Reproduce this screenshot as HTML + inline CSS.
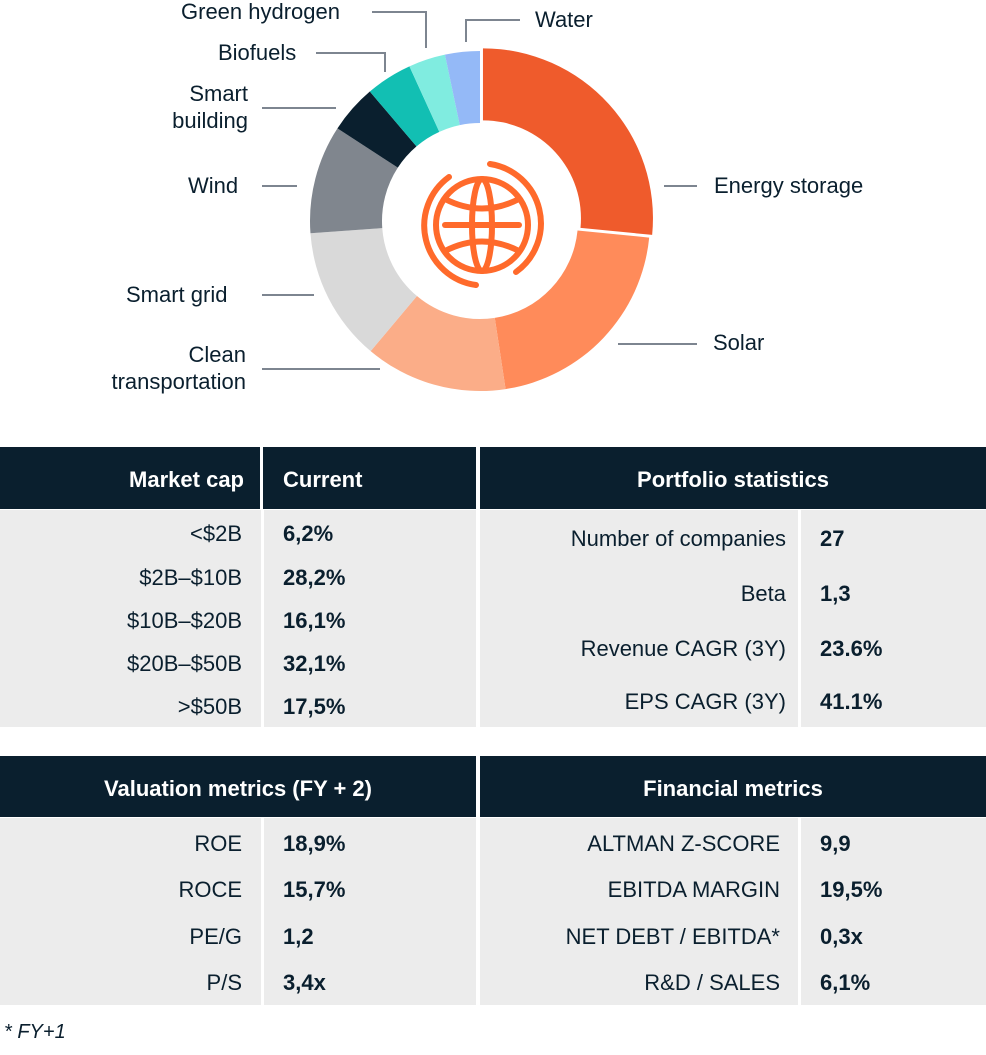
<!DOCTYPE html>
<html><head><meta charset="utf-8">
<style>
body{margin:0;width:986px;height:1055px;background:#fff;position:relative;overflow:hidden;font-family:"Liberation Sans",sans-serif;color:#0a1f2e}
.a{position:absolute;white-space:nowrap}
.lbl{font-size:22px;line-height:27px}
.hd{position:absolute;background:#0a1f2e;color:#fff;font-weight:bold;font-size:22px}
.bd{position:absolute;background:#ececec}
.r{position:absolute;font-size:22px;text-align:right}
.v{position:absolute;font-size:22px;font-weight:bold}
</style></head><body>
<svg id="chart" width="986" height="420" style="position:absolute;left:0;top:0">
<g id="slices"></g>
<g id="leaders" stroke="#7d8590" stroke-width="2" fill="none">
<polyline points="372,12 426,12 426,48"/>
<polyline points="520,20 466,20 466,42"/>
<polyline points="316,53 385,53 385,72"/>
<line x1="262" y1="108" x2="336" y2="108"/>
<line x1="262" y1="186" x2="297" y2="186"/>
<line x1="262" y1="295" x2="314" y2="295"/>
<line x1="262" y1="369" x2="380" y2="369"/>
<line x1="664" y1="186" x2="697" y2="186"/>
<line x1="618" y1="344" x2="697" y2="344"/>
</g>
<g fill="none" stroke="#ff6a2b" stroke-width="6" stroke-linecap="round">
<circle cx="482" cy="225" r="46"/>
<ellipse cx="482" cy="225" rx="10" ry="46"/>
<line x1="445" y1="225" x2="519" y2="225"/>
<path d="M445 199 Q482 218 519 199"/>
<path d="M445 251 Q482 232 519 251"/>
<path d="M490 164 A60 60 0 0 1 516 272"/>
<path d="M476 285 A60 60 0 0 1 449 177"/>
</g>
</svg>
<div class="a lbl" style="left:181px;top:-2px">Green hydrogen</div>
<div class="a lbl" style="left:535px;top:6px">Water</div>
<div class="a lbl" style="left:218px;top:39px">Biofuels</div>
<div class="a lbl" style="left:148px;top:80px;width:100px;text-align:right">Smart<br>building</div>
<div class="a lbl" style="left:188px;top:172px">Wind</div>
<div class="a lbl" style="left:126px;top:281px">Smart grid</div>
<div class="a lbl" style="left:40px;top:341px;width:206px;text-align:right">Clean<br>transportation</div>
<div class="a lbl" style="left:714px;top:172px">Energy storage</div>
<div class="a lbl" style="left:713px;top:329px">Solar</div>

<!-- Market cap table -->
<div class="hd" style="left:0;top:447px;width:260px;height:62px"><span class="a" style="right:16px;top:20px">Market cap</span></div>
<div class="hd" style="left:263px;top:447px;width:213px;height:62px"><span class="a" style="left:20px;top:20px">Current</span></div>
<div class="bd" style="left:0;top:510px;width:261px;height:217px"></div>
<div class="bd" style="left:264px;top:510px;width:212px;height:217px"></div>
<div class="r" style="right:744px;top:521px">&lt;$2B</div><div class="v" style="left:283px;top:521px">6,2%</div>
<div class="r" style="right:744px;top:565px">$2B–$10B</div><div class="v" style="left:283px;top:565px">28,2%</div>
<div class="r" style="right:744px;top:608px">$10B–$20B</div><div class="v" style="left:283px;top:608px">16,1%</div>
<div class="r" style="right:744px;top:651px">$20B–$50B</div><div class="v" style="left:283px;top:651px">32,1%</div>
<div class="r" style="right:744px;top:694px">&gt;$50B</div><div class="v" style="left:283px;top:694px">17,5%</div>

<!-- Portfolio stats -->
<div class="hd" style="left:480px;top:447px;width:506px;height:62px;text-align:center;line-height:66px">Portfolio statistics</div>
<div class="bd" style="left:480px;top:510px;width:318px;height:217px"></div>
<div class="bd" style="left:801px;top:510px;width:185px;height:217px"></div>
<div class="r" style="right:200px;top:526px">Number of companies</div><div class="v" style="left:820px;top:526px">27</div>
<div class="r" style="right:200px;top:581px">Beta</div><div class="v" style="left:820px;top:581px">1,3</div>
<div class="r" style="right:200px;top:636px">Revenue CAGR (3Y)</div><div class="v" style="left:820px;top:636px">23.6%</div>
<div class="r" style="right:200px;top:689px">EPS CAGR (3Y)</div><div class="v" style="left:820px;top:689px">41.1%</div>

<!-- Valuation -->
<div class="hd" style="left:0;top:756px;width:476px;height:61px;text-align:center;line-height:66px">Valuation metrics (FY + 2)</div>
<div class="bd" style="left:0;top:818px;width:261px;height:187px"></div>
<div class="bd" style="left:264px;top:818px;width:212px;height:187px"></div>
<div class="r" style="right:744px;top:831px">ROE</div><div class="v" style="left:283px;top:831px">18,9%</div>
<div class="r" style="right:744px;top:877px">ROCE</div><div class="v" style="left:283px;top:877px">15,7%</div>
<div class="r" style="right:744px;top:924px">PE/G</div><div class="v" style="left:283px;top:924px">1,2</div>
<div class="r" style="right:744px;top:970px">P/S</div><div class="v" style="left:283px;top:970px">3,4x</div>

<!-- Financial -->
<div class="hd" style="left:480px;top:756px;width:506px;height:61px;text-align:center;line-height:66px">Financial metrics</div>
<div class="bd" style="left:480px;top:818px;width:318px;height:187px"></div>
<div class="bd" style="left:801px;top:818px;width:185px;height:187px"></div>
<div class="r" style="right:206px;top:831px">ALTMAN Z-SCORE</div><div class="v" style="left:820px;top:831px">9,9</div>
<div class="r" style="right:206px;top:877px">EBITDA MARGIN</div><div class="v" style="left:820px;top:877px">19,5%</div>
<div class="r" style="right:206px;top:924px">NET DEBT / EBITDA*</div><div class="v" style="left:820px;top:924px">0,3x</div>
<div class="r" style="right:206px;top:970px">R&amp;D / SALES</div><div class="v" style="left:820px;top:970px">6,1%</div>

<div class="a" style="left:4px;top:1021px;font-size:20px;font-style:italic">* FY+1</div>

<script>
const categories = ["Energy storage","Solar","Clean transportation","Smart grid","Wind","Smart building","Biofuels","Green hydrogen","Water"];
const values = [26.5,21.0,13.5,12.7,10.3,4.6,4.4,3.5,3.3];
const colors = ["#ef5b2c","#ff8b5a","#fbad88","#d9d9d9","#80868e","#0a1f2e","#12bfb3","#80ece0","#94b9f7"];
const cx=480, cy=221, R=170, r0=98;
const total = values.reduce((a,b)=>a+b,0);
function angle(v){return v/total*2*Math.PI;}
function pt(a,rad,ox,oy){return [cx+ox+rad*Math.sin(a), cy+oy-rad*Math.cos(a)];}
const g=document.getElementById('slices');
let acc=0;
values.forEach((v,i)=>{
  const a0=angle(acc), a1=angle(acc+v); acc+=v;
  const mid=(a0+a1)/2, off=i===0?4:0;
  const ox=off*Math.sin(mid), oy=-off*Math.cos(mid);
  const big=(a1-a0)>Math.PI?1:0;
  const p1=pt(a0,R,ox,oy),p2=pt(a1,R,ox,oy),p3=pt(a1,r0,ox,oy),p4=pt(a0,r0,ox,oy);
  const p=document.createElementNS('http://www.w3.org/2000/svg','path');
  p.setAttribute('d',`M${p1} A${R} ${R} 0 ${big} 1 ${p2} L${p3} A${r0} ${r0} 0 ${big} 0 ${p4}Z`);
  p.setAttribute('fill',colors[i]);
  
  
  g.appendChild(p);
});
</script>
</body></html>
